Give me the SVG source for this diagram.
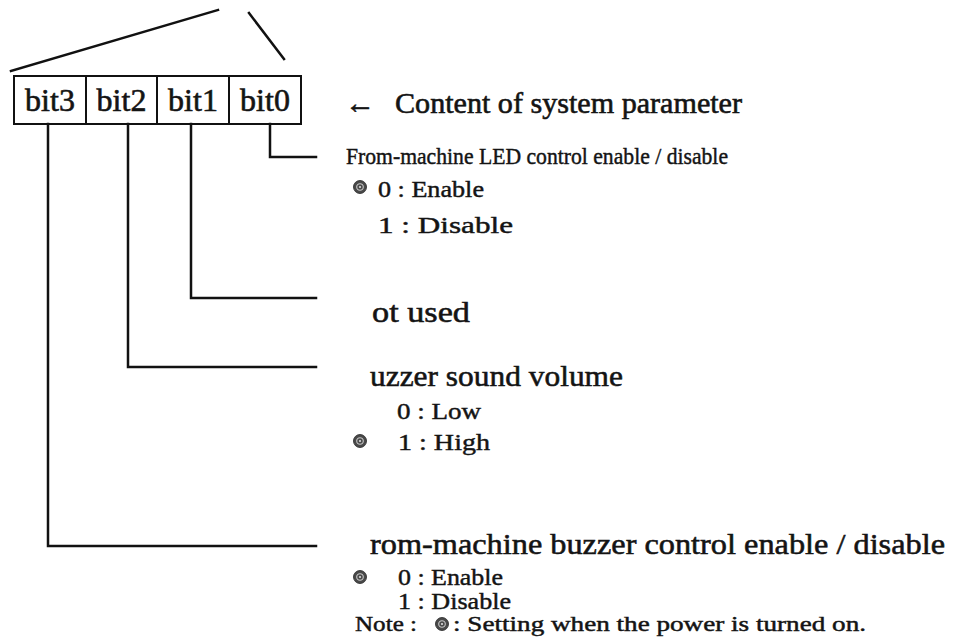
<svg xmlns="http://www.w3.org/2000/svg" width="956" height="637" viewBox="0 0 956 637">
  <style>
    .ln { fill: none; stroke: #111; stroke-width: 2.5; stroke-linecap: square; }
    .box { fill: #fff; stroke: #111; stroke-width: 2; }
    .div { stroke: #111; stroke-width: 2; }
    .t { font-family: "Liberation Serif", "Times New Roman", serif; fill: #141414; stroke: #141414; stroke-width: 0.45; }
    .bit { font-size: 32px; text-anchor: middle; stroke-width: 0.6; }
    .hd { font-size: 30px; stroke-width: 0.6; }
    .sm { font-size: 24px; }
    .lg { font-size: 30px; stroke-width: 0.55; }
    .opt { font-size: 24px; }
    .nt { font-size: 21px; }
  </style>
  <defs>
    <!-- power-on default marker -->
    <g id="mark">
      <circle r="6.5" fill="#4a4a4a" stroke="#222" stroke-width="0.8"/>
      <circle r="3.3" fill="none" stroke="#c8c8c8" stroke-width="1.1"/>
      <circle r="1.1" fill="#ddd"/>
    </g>
  </defs>
  <rect width="956" height="637" fill="#fff"/>

  <!-- bracket lines above the register -->
  <g id="bracket">
    <line class="ln" x1="11" y1="71" x2="218" y2="10"/>
    <line class="ln" x1="249" y1="13" x2="284" y2="59"/>
  </g>

  <!-- 4-bit register -->
  <g id="register">
    <rect class="box" x="14" y="76" width="287" height="48"/>
    <line class="div" x1="86" y1="76" x2="86" y2="124"/>
    <line class="div" x1="157" y1="76" x2="157" y2="124"/>
    <line class="div" x1="229" y1="76" x2="229" y2="124"/>
    <text class="t bit" x="50" y="111">bit3</text>
    <text class="t bit" x="121.5" y="111">bit2</text>
    <text class="t bit" x="193" y="111">bit1</text>
    <text class="t bit" x="265" y="111">bit0</text>
  </g>

  <!-- leader lines from each bit -->
  <g id="connectors">
    <polyline class="ln" points="270,124 270,157 316,157"/>
    <polyline class="ln" points="191,124 191,298 316,298"/>
    <polyline class="ln" points="128,124 128,367 316,367"/>
    <polyline class="ln" points="48,124 48,546 316,546"/>
  </g>

  <g id="caption">
    <text class="t hd" x="345" y="113">←</text>
    <text class="t hd" x="395" y="113" textLength="347" lengthAdjust="spacingAndGlyphs">Content of system parameter</text>
  </g>

  <g id="bit0-desc">
    <text class="t sm" x="346" y="164" textLength="382" lengthAdjust="spacingAndGlyphs">From-machine LED control enable / disable</text>
    <use href="#mark" x="360" y="187"/>
    <text class="t opt" x="378" y="197" textLength="106" lengthAdjust="spacingAndGlyphs">0 : Enable</text>
    <text class="t opt" x="378" y="233" textLength="135" lengthAdjust="spacingAndGlyphs">1 : Disable</text>
  </g>

  <g id="bit1-desc">
    <text class="t lg" x="372" y="322" textLength="98" lengthAdjust="spacingAndGlyphs">ot  used</text>
  </g>

  <g id="bit2-desc">
    <text class="t lg" x="370" y="386" textLength="253" lengthAdjust="spacingAndGlyphs">uzzer sound volume</text>
    <text class="t opt" x="397" y="419" textLength="84" lengthAdjust="spacingAndGlyphs">0 : Low</text>
    <use href="#mark" x="360" y="441"/>
    <text class="t opt" x="398" y="450" textLength="92" lengthAdjust="spacingAndGlyphs">1 : High</text>
  </g>

  <g id="bit3-desc">
    <text class="t lg" x="370" y="554" textLength="575" lengthAdjust="spacingAndGlyphs">rom-machine buzzer control enable / disable</text>
    <use href="#mark" x="360" y="577"/>
    <text class="t opt" x="398" y="585" textLength="105" lengthAdjust="spacingAndGlyphs">0 : Enable</text>
    <text class="t opt" x="398" y="609" textLength="113" lengthAdjust="spacingAndGlyphs">1 : Disable</text>
  </g>

  <g id="note">
    <text class="t nt" x="355" y="631" textLength="62" lengthAdjust="spacingAndGlyphs">Note :</text>
    <use href="#mark" x="442" y="624"/>
    <text class="t nt" x="453" y="631" textLength="413" lengthAdjust="spacingAndGlyphs">: Setting when the power is turned on.</text>
  </g>
</svg>
